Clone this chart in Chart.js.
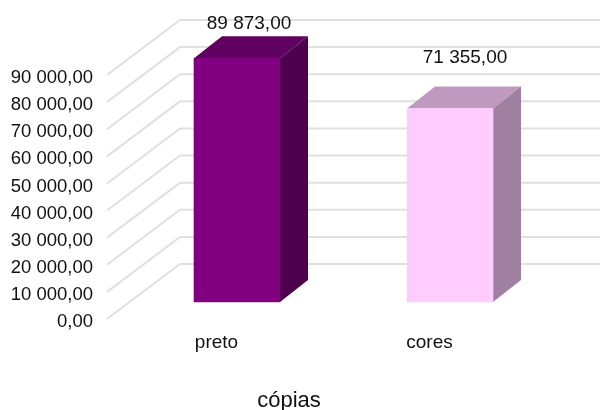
<!DOCTYPE html>
<html>
<head>
<meta charset="utf-8">
<style>
    html, body { margin: 0; padding: 0; background: #fff; }
    canvas { display: block; }
</style>
<script src="https://cdn.jsdelivr.net/npm/chart.js@4"></script>
</head>
<body>
<canvas id="copias-chart" width="600" height="410"></canvas>
<script>
const CATEGORIES = ['preto', 'cores']
const VALUES = [89873, 71355]
const AXIS_MAX = 90000
const AXIS_STEP = 10000
const AXIS_TITLE = 'cópias'

const FRONT_COLORS = ['#800080', '#FFCCFF']
const TOP_COLORS = ['#600060', '#BF99BF']
const SIDE_COLORS = ['#4D004D', '#A080A0']
const GRID_COLOR = '#E0E0E0'
const TEXT_COLOR = '#111'
const FONT_FAMILY = '"Liberation Sans", Arial, sans-serif'

// the floor runs back from the front plane to the wall
const WALL_DEPTH = { x: 73, y: -55 }
const BAR_SHIFT = { x: 20.5, y: -17 }
const BAR_DEPTH = { x: 28, y: -22 }
const LABEL_OFFSETS = [{ x: 12, y: -35 }, { x: 15, y: -51 }]

function formatValue(value) {
    const parts = value.toFixed(2).split('.')
    return parts[0].replace(/\B(?=(\d{3})+$)/g, '\u00a0') + ',' + parts[1]
}

function polygon(ctx, points, color) {
    ctx.fillStyle = color
    ctx.beginPath()
    points.forEach((p, i) => i ? ctx.lineTo(p[0], p[1]) : ctx.moveTo(p[0], p[1]))
    ctx.closePath()
    ctx.fill()
}

const walls = {
    id: 'walls',
    beforeDatasetsDraw(chart) {
        const ctx = chart.ctx
        const yScale = chart.scales.y
        ctx.save()
        ctx.strokeStyle = GRID_COLOR
        ctx.lineWidth = 2
        yScale.ticks.forEach(tick => {
            const y = yScale.getPixelForValue(tick.value)
            const x = chart.chartArea.left - 3
            ctx.beginPath()
            ctx.moveTo(x, y)
            ctx.lineTo(x + WALL_DEPTH.x, y + WALL_DEPTH.y)
            ctx.lineTo(chart.width, y + WALL_DEPTH.y)
            ctx.stroke()
        })
        ctx.restore()
    },
}

const bars3d = {
    id: 'bars3d',
    beforeDatasetDraw(chart) {
        const ctx = chart.ctx
        ctx.save()
        ctx.translate(BAR_SHIFT.x, BAR_SHIFT.y)
        chart.getDatasetMeta(0).data.forEach((bar, i) => {
            const left = bar.x - bar.width / 2
            const right = bar.x + bar.width / 2
            const dx = BAR_DEPTH.x
            const dy = BAR_DEPTH.y
            polygon(ctx, [[left, bar.y], [left + dx, bar.y + dy], [right + dx, bar.y + dy], [right, bar.y]], TOP_COLORS[i])
            polygon(ctx, [[right, bar.y], [right + dx, bar.y + dy], [right + dx, bar.base + dy], [right, bar.base]], SIDE_COLORS[i])
        })
    },
    afterDatasetDraw(chart) {
        chart.ctx.restore()
    },
    afterDraw(chart) {
        const ctx = chart.ctx
        ctx.save()
        ctx.fillStyle = TEXT_COLOR
        ctx.font = '19px ' + FONT_FAMILY
        ctx.textAlign = 'center'
        ctx.textBaseline = 'middle'
        chart.getDatasetMeta(0).data.forEach((bar, i) => {
            ctx.fillText(formatValue(VALUES[i]), bar.x + BAR_SHIFT.x + LABEL_OFFSETS[i].x, bar.y + BAR_SHIFT.y + LABEL_OFFSETS[i].y)
        })
        ctx.font = '22px ' + FONT_FAMILY
        ctx.fillText(AXIS_TITLE, 289, 400.5)
        ctx.restore()
    },
}

new Chart(document.getElementById('copias-chart').getContext('2d'), {
    type: 'bar',
    data: {
        labels: CATEGORIES,
        datasets: [{
            data: VALUES,
            backgroundColor: FRONT_COLORS,
            barThickness: 86,
            clip: false,
        }],
    },
    options: {
        responsive: false,
        animation: false,
        layout: { padding: { left: 0, top: 75, right: 64, bottom: 0 } },
        plugins: {
            legend: { display: false },
            tooltip: { enabled: false },
        },
        scales: {
            x: {
                grid: { display: false },
                border: { display: false },
                afterFit: scale => { scale.height = 91 },
                ticks: {
                    color: TEXT_COLOR,
                    font: { family: FONT_FAMILY, size: 19 },
                    padding: 4,
                    maxRotation: 0,
                },
            },
            y: {
                min: 0,
                max: AXIS_MAX,
                grid: { display: false },
                border: { display: false },
                afterFit: scale => { scale.width = 110 },
                ticks: {
                    stepSize: AXIS_STEP,
                    color: TEXT_COLOR,
                    font: { family: FONT_FAMILY, size: 18.5 },
                    padding: 9,
                    labelOffset: 3,
                    callback: value => formatValue(value),
                },
            },
        },
    },
    plugins: [walls, bars3d],
})
</script>
</body>
</html>
